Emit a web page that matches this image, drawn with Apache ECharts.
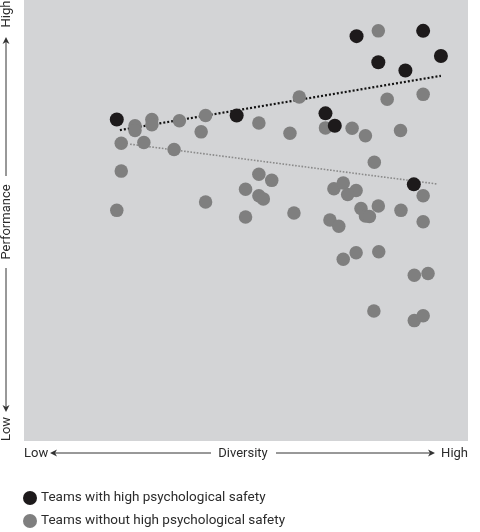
<!DOCTYPE html>
<html>
<head>
<meta charset="utf-8">
<script src="https://cdn.jsdelivr.net/npm/echarts@6/dist/echarts.min.js"></script>
<style>
html,body{margin:0;padding:0;background:#fff;}
#chart{width:480px;height:532px;}
</style>
</head>
<body>
<div id="chart"></div>
<script>
// Diversity (x, 0-100) vs Performance (y, 0-100)
const highSafety = [
  [74.9, 91.8], [89.9, 93.0], [93.9, 87.3], [79.8, 85.9], [85.9, 84.0],
  [20.9, 72.9], [47.9, 73.8], [67.9, 74.3], [70.0, 71.5], [87.8, 58.2]
];
const lowSafety = [
  [79.8, 93.0], [89.9, 78.6], [81.8, 77.5], [62.0, 78.0], [40.9, 73.8],
  [35.0, 72.6], [28.8, 72.9], [28.8, 71.7], [25.0, 71.5], [25.0, 70.4],
  [39.9, 70.1], [52.9, 72.1], [59.9, 69.8], [67.9, 71.0], [73.9, 70.9],
  [76.9, 69.2], [84.8, 70.4], [21.9, 67.5], [27.0, 67.7], [33.8, 66.1],
  [78.9, 63.2], [21.9, 61.2], [52.9, 60.5], [55.8, 59.1], [49.9, 57.1],
  [69.8, 57.2], [71.9, 58.5], [74.8, 56.8], [72.9, 55.9], [52.9, 55.6],
  [53.9, 54.9], [89.9, 55.6], [40.9, 54.2], [20.9, 52.3], [75.9, 52.7],
  [79.8, 53.3], [84.9, 52.3], [76.9, 51.0], [77.8, 50.9], [49.9, 50.8],
  [60.8, 51.7], [68.9, 50.1], [70.9, 48.7], [89.9, 49.7],
  [71.9, 41.2], [74.8, 42.7], [79.9, 42.9], [87.9, 37.6], [91.0, 38.0],
  [78.8, 29.5], [87.9, 27.3], [89.9, 28.4]
];
const trendHigh = [[21.6, 70.5], [93.9, 82.8]];
const trendLow = [[23.9, 67.3], [92.9, 58.3]];
const seriesNames = ['Teams with high psychological safety', 'Teams without high psychological safety'];
const axisWords = { xLow: 'Low', xName: 'Diversity', xHigh: 'High', yLow: 'Low', yName: 'Performance', yHigh: 'High' };

const FONT = 'Roboto';
const TXT = '#2b2b2b';
const LINE = '#333';

function arrow(tipX, tipY, dir) {
  const L = 7, W = 3.5;
  let pts;
  if (dir === 'left') pts = [[tipX, tipY], [tipX + L, tipY - W], [tipX + L - 2, tipY], [tipX + L, tipY + W]];
  if (dir === 'right') pts = [[tipX, tipY], [tipX - L, tipY - W], [tipX - L + 2, tipY], [tipX - L, tipY + W]];
  if (dir === 'up') pts = [[tipX, tipY], [tipX - W, tipY + L], [tipX, tipY + L - 2], [tipX + W, tipY + L]];
  if (dir === 'down') pts = [[tipX, tipY], [tipX - W, tipY - L], [tipX, tipY - L + 2], [tipX + W, tipY - L]];
  return { type: 'polygon', shape: { points: pts }, style: { fill: LINE }, silent: true };
}
function hline(x1, x2, y) {
  return { type: 'line', shape: { x1: x1, y1: y, x2: x2, y2: y }, style: { stroke: LINE, lineWidth: 1 }, silent: true };
}
function vline(x, y1, y2) {
  return { type: 'line', shape: { x1: x, y1: y1, x2: x, y2: y2 }, style: { stroke: LINE, lineWidth: 1 }, silent: true };
}
function txt(t, x, y, align, rot) {
  return { type: 'text', x: x, y: y, rotation: rot || 0,
    style: { text: t, fill: TXT, font: '13px ' + FONT, align: align, verticalAlign: 'middle' }, silent: true };
}

const chart = echarts.init(document.getElementById('chart'));
chart.setOption({
  animation: false,
  grid: { left: 24, right: 12, top: 0, bottom: 91, show: true, backgroundColor: '#d3d4d6', borderWidth: 0 },
  xAxis: { type: 'value', min: 0, max: 100, show: false },
  yAxis: { type: 'value', min: 0, max: 100, show: false },
  legend: {
    orient: 'vertical', left: 23, top: 491, padding: 0, itemGap: 9, itemWidth: 14, itemHeight: 14,
    icon: 'circle', data: seriesNames,
    textStyle: { fontFamily: FONT, fontSize: 13.5, color: TXT, padding: [0, 0, 0, -1] }
  },
  series: [
    { type: 'line', data: trendHigh, symbol: 'none', z: 1, silent: true,
      lineStyle: { color: '#111', width: 2.2, type: [2, 2] } },
    { type: 'line', data: trendLow, symbol: 'none', z: 1, silent: true,
      lineStyle: { color: '#8a8a8a', width: 1.6, type: [1.6, 1.6] } },
    { name: seriesNames[1], type: 'scatter', data: lowSafety, symbolSize: 13.5, z: 2,
      itemStyle: { color: '#7f7f7f', opacity: 1 } },
    { name: seriesNames[0], type: 'scatter', data: highSafety, symbolSize: 14, z: 3,
      itemStyle: { color: '#1d1a1b', opacity: 1 } }
  ],
  graphic: [
    // x axis
    txt(axisWords.xLow, 24, 454, 'left'),
    arrow(50, 453, 'left'), hline(52, 211, 453),
    txt(axisWords.xName, 243, 454, 'center'),
    hline(276, 433, 453), arrow(435, 453, 'right'),
    txt(axisWords.xHigh, 468, 454, 'right'),
    // y axis
    txt(axisWords.yHigh, 7, 14, 'center', Math.PI / 2),
    arrow(6, 37, 'up'), vline(6, 39, 176),
    txt(axisWords.yName, 7, 222, 'center', Math.PI / 2),
    vline(6, 268, 410), arrow(6, 412, 'down'),
    txt(axisWords.yLow, 7, 429, 'center', Math.PI / 2)
  ]
});
</script>
</body>
</html>
